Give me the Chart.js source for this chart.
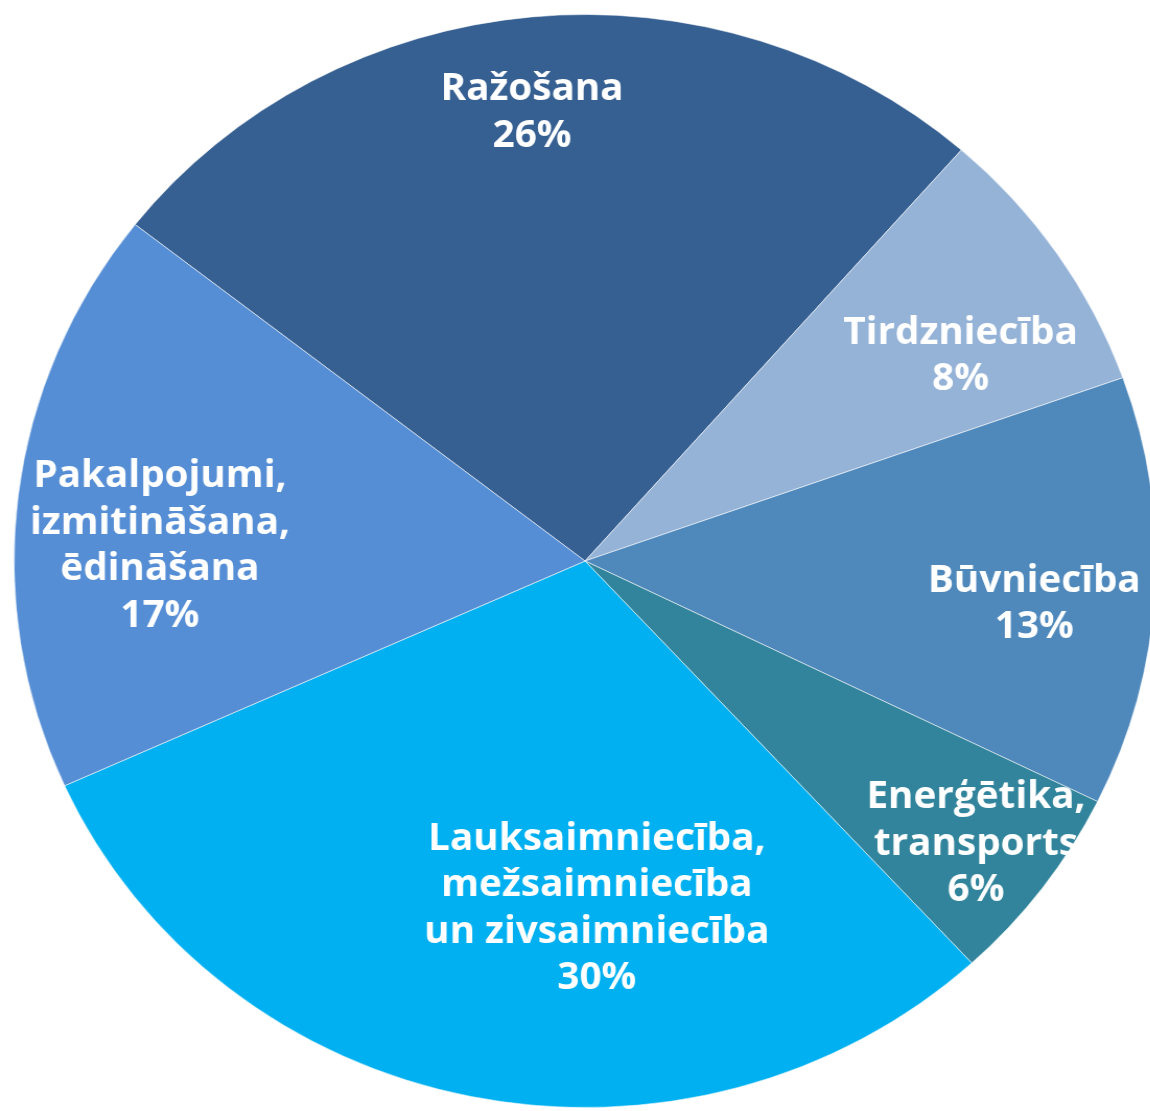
<!DOCTYPE html>
<html>
<head>
<meta charset="utf-8">
<script src="https://cdn.jsdelivr.net/npm/chart.js@4/dist/chart.umd.min.js"></script>
<style>
  html, body { margin: 0; padding: 0; background: #fff; overflow: hidden; }
  #wrap { width: 1150px; height: 1111px; overflow: hidden; }
</style>
</head>
<body>
<!-- the original picture is a little wider than tall, so the canvas is stretched -->
<div id="wrap"><canvas id="pie" width="1120" height="1111" style="width:1170px;height:1111px;display:block"></canvas></div>
<script>
const categories = [
    'Ražošana',
    'Tirdzniecība',
    'Būvniecība',
    'Enerģētika,\ntransports',
    'Lauksaimniecība,\nmežsaimniecība\nun zivsaimniecība',
    'Pakalpojumi,\nizmitināšana,\nēdināšana'
]
// shares in % (labels show them rounded)
const shares = [25.9, 8.1, 12.7, 5.9, 30.1, 17.3]
const colors = ['#376092', '#95B3D7', '#4F89BC', '#31849B', '#00B0F0', '#558ED5']

// where each label sits: extra angle (deg) from the slice middle, and distance as part of the radius
const labelTurn = [-1.07, 4.53, 2.52, 0.4, -13.41, -4.81]
const labelDist = [0.825, 0.757, 0.791, 0.859, 0.637, 0.745]

const sliceLabels = {
    id: 'sliceLabels',
    afterDatasetsDraw(chart) {
        const ctx = chart.ctx
        const meta = chart.getDatasetMeta(0)
        const total = shares.reduce((a, b) => a + b, 0)
        ctx.save()
        ctx.fillStyle = '#ffffff'
        ctx.font = 'bold 37px "Open Sans"'
        ctx.textAlign = 'center'
        ctx.textBaseline = 'middle'
        meta.data.forEach((arc, i) => {
            const p = arc.getProps(['x', 'y', 'startAngle', 'endAngle', 'outerRadius'], true)
            const mid = (p.startAngle + p.endAngle) / 2 + labelTurn[i] * Math.PI / 180
            const r = p.outerRadius * labelDist[i]
            const cx = p.x + Math.cos(mid) * r
            const cy = p.y + Math.sin(mid) * r
            const lines = categories[i].split('\n')
            lines.push(Math.round(shares[i] / total * 100) + '%')
            const lh = 46.5
            const top = cy - (lines.length - 1) * lh / 2
            lines.forEach((t, j) => ctx.fillText(t, cx, top + j * lh))
        })
        ctx.restore()
    }
}

new Chart(document.querySelector('#pie').getContext('2d'), {
    type: 'pie',
    data: {
        labels: categories,
        datasets: [{
            data: shares,
            backgroundColor: colors,
            borderColor: 'rgba(255,255,255,0.55)',
            borderWidth: 1
        }]
    },
    options: {
        responsive: false,
        devicePixelRatio: 1,
        animation: false,
        rotation: -52,
        layout: { padding: { left: 13, right: 13, top: 14, bottom: 3 } },
        plugins: {
            legend: { display: false },
            tooltip: { enabled: false }
        }
    },
    plugins: [sliceLabels]
})
</script>
</body>
</html>
